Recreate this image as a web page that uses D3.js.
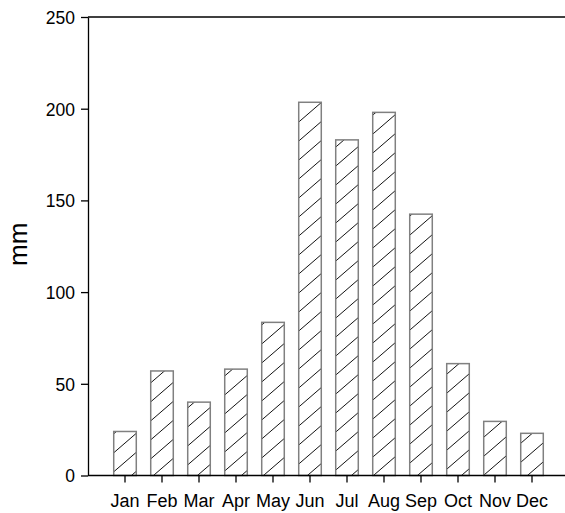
<!DOCTYPE html>
<html>
<head>
<meta charset="utf-8">
<script src="https://cdn.jsdelivr.net/npm/d3@7"></script>
<style>
  html, body { margin: 0; padding: 0; background: #fff; }
  svg { display: block; }
  text { font-family: "Liberation Sans", Arial, sans-serif; fill: #000; }
</style>
</head>
<body>
<svg id="chart" width="565" height="513"></svg>
<script>
const months = ["Jan","Feb","Mar","Apr","May","Jun","Jul","Aug","Sep","Oct","Nov","Dec"];
const rainfall = [24, 57, 40, 58, 83.5, 203.5, 183, 198, 142.5, 61, 29.5, 23];
const yTicks = [0, 50, 100, 150, 200, 250];
const yLabel = "mm";

(function () {
const svg = d3.select("#chart");
const mLeft = 88, mRight = 565, mTop = 17, mBottom = 475.5;

const y = d3.scaleLinear().domain([0, 250]).range([mBottom, mTop]);
const x = d3.scaleBand().domain(months).range([106.5, 550.5]).paddingInner(0.39).paddingOuter(0.195);

const defs = svg.append("defs");
const pat = defs.append("pattern")
  .attr("id", "hatch").attr("patternUnits", "userSpaceOnUse")
  .attr("width", 22).attr("height", 19);
pat.append("rect").attr("width", 22).attr("height", 19).attr("fill", "#fff");
pat.append("path")
  .attr("d", "M0,19 L22,0 M-2,1.7 L2,-1.7 M20,20.7 L24,17.3")
  .attr("stroke", "#111").attr("stroke-width", 1);

// bars
svg.append("g").selectAll("rect").data(months).join("rect")
  .attr("x", d => x(d))
  .attr("y", (d, i) => y(rainfall[i]))
  .attr("width", x.bandwidth())
  .attr("height", (d, i) => y(0) - y(rainfall[i]))
  .attr("fill", "url(#hatch)")
  .attr("stroke", "#808080")
  .attr("stroke-width", 1.5);

// y axis
const yAxis = svg.append("g").attr("transform", `translate(${mLeft},0)`)
  .call(d3.axisLeft(y).tickValues(yTicks).tickSize(7).tickSizeOuter(0).tickPadding(6));
yAxis.select(".domain").attr("stroke", "#000").attr("stroke-width", 1.3);
yAxis.selectAll(".tick line").attr("stroke", "#000").attr("stroke-width", 1.3);
yAxis.selectAll(".tick text").style("font-size", "17.5px").attr("dy", "0.36em");

// top frame line
svg.append("line").attr("x1", mLeft).attr("x2", mRight).attr("y1", y(250)).attr("y2", y(250))
  .attr("stroke", "#000").attr("stroke-width", 1.5);

// x axis
const xAxis = svg.append("g").attr("transform", `translate(0,${y(0)})`)
  .call(d3.axisBottom(x).tickSize(7).tickSizeOuter(0).tickPadding(12));
xAxis.select(".domain").remove();
xAxis.selectAll(".tick line").attr("stroke", "#000").attr("stroke-width", 1.3);
xAxis.selectAll(".tick text").style("font-size", "18px");
svg.append("line").attr("x1", mLeft).attr("x2", mRight).attr("y1", y(0)).attr("y2", y(0))
  .attr("stroke", "#000").attr("stroke-width", 1.5);

// y label
svg.append("text")
  .attr("transform", `translate(27,${(mTop + mBottom) / 2 - 2}) rotate(-90)`)
  .attr("text-anchor", "middle")
  .style("font-size", "26px")
  .text(yLabel);
})();
</script>
</body>
</html>
